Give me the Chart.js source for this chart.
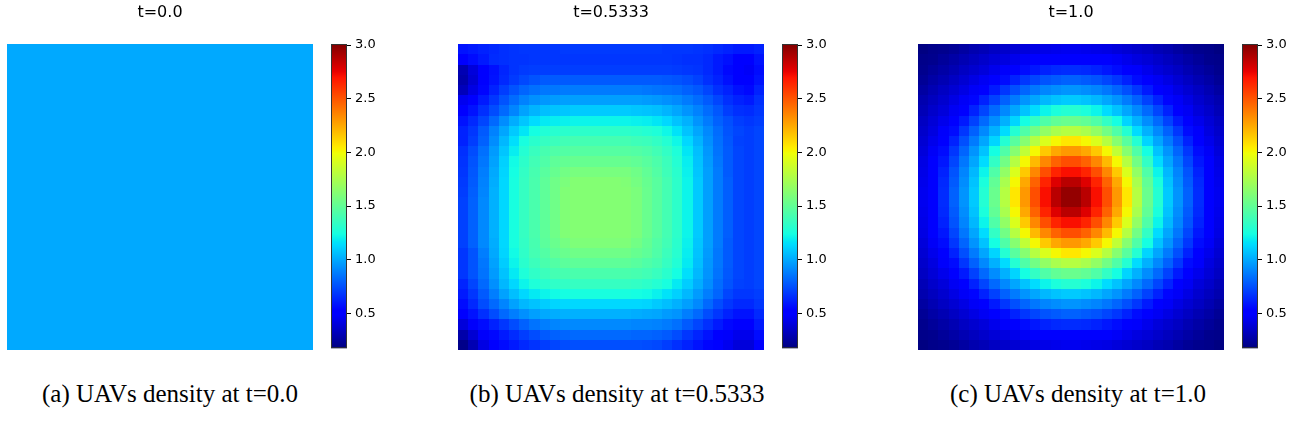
<!DOCTYPE html>
<html>
<head>
<meta charset="utf-8">
<title>UAVs density</title>
<script src="https://cdn.jsdelivr.net/npm/chart.js@4.4.1/dist/chart.umd.min.js"></script>
<style>
  body { margin: 0; background: #fff; }
  #page { position: relative; width: 1311px; height: 438px; overflow: hidden; }
  canvas { position: absolute; top: 0; }
  .caption {
    position: absolute; top: 381px; transform: translateX(-50%);
    font-family: 'Liberation Serif', 'Times New Roman', serif; font-size: 25px; line-height: 25px;
    color: #000; white-space: nowrap;
  }
</style>
</head>
<body>
<div id="page">
  <canvas id="map0" width="306" height="350" style="left:7px"></canvas>
  <canvas id="bar0" width="60" height="360" style="left:331px"></canvas>
  <canvas id="map1" width="306" height="350" style="left:458px"></canvas>
  <canvas id="bar1" width="60" height="360" style="left:782px"></canvas>
  <canvas id="map2" width="306" height="350" style="left:918px"></canvas>
  <canvas id="bar2" width="60" height="360" style="left:1242px"></canvas>
  <div class="caption" id="cap0" style="left:170px"></div>
  <div class="caption" id="cap1" style="left:617px"></div>
  <div class="caption" id="cap2" style="left:1078px"></div>
</div>
<script>
// text of the three panels
const panelTitles = ['t=0.0', 't=0.5333', 't=1.0'];
const captionTexts = ['(a) UAVs density at t=0.0', '(b) UAVs density at t=0.5333', '(c) UAVs density at t=1.0'];

// colour bar
const colorMin = 0.175;
const colorMax = 3.01;
const colorbarTicks = [0.5, 1.0, 1.5, 2.0, 2.5, 3.0];

// t=0.0 : uniform field
const densityT0 = [[1.0]];

// t=0.5333 : rows top -> bottom, columns left -> right
const densityT05333 = [
  [0.58,0.60,0.62,0.64,0.66,0.67,0.68,0.68,0.68,0.68,0.69,0.69,0.69,0.69,0.69,0.69,0.69,0.69,0.69,0.69,0.68,0.68,0.68,0.67,0.66,0.64,0.62,0.60,0.60,0.62],
  [0.52,0.56,0.60,0.65,0.66,0.67,0.67,0.68,0.68,0.68,0.68,0.68,0.68,0.68,0.68,0.68,0.68,0.68,0.68,0.68,0.68,0.67,0.66,0.66,0.64,0.60,0.57,0.52,0.50,0.58],
  [0.30,0.40,0.50,0.57,0.63,0.67,0.69,0.70,0.70,0.70,0.70,0.70,0.70,0.70,0.70,0.70,0.70,0.70,0.70,0.70,0.70,0.69,0.68,0.67,0.64,0.60,0.55,0.49,0.47,0.56],
  [0.28,0.38,0.50,0.58,0.64,0.69,0.73,0.76,0.78,0.78,0.78,0.78,0.78,0.78,0.78,0.78,0.78,0.78,0.78,0.78,0.77,0.76,0.74,0.71,0.66,0.62,0.57,0.51,0.49,0.58],
  [0.32,0.42,0.54,0.62,0.70,0.76,0.81,0.84,0.86,0.86,0.87,0.87,0.87,0.87,0.87,0.87,0.87,0.87,0.86,0.85,0.84,0.83,0.80,0.77,0.72,0.66,0.62,0.57,0.55,0.62],
  [0.45,0.52,0.60,0.68,0.76,0.83,0.89,0.93,0.95,0.96,0.97,0.97,0.97,0.97,0.97,0.97,0.97,0.97,0.96,0.95,0.93,0.91,0.87,0.83,0.78,0.72,0.66,0.62,0.60,0.66],
  [0.52,0.58,0.66,0.74,0.82,0.90,0.98,1.03,1.06,1.07,1.08,1.09,1.09,1.09,1.09,1.09,1.09,1.08,1.07,1.06,1.03,0.99,0.94,0.89,0.83,0.77,0.70,0.66,0.65,0.68],
  [0.58,0.64,0.72,0.82,0.92,1.01,1.08,1.14,1.18,1.19,1.20,1.21,1.21,1.21,1.21,1.21,1.21,1.20,1.19,1.17,1.13,1.07,1.02,0.94,0.87,0.80,0.75,0.70,0.68,0.70],
  [0.62,0.68,0.78,0.89,0.99,1.09,1.17,1.24,1.28,1.30,1.31,1.32,1.32,1.32,1.32,1.32,1.32,1.31,1.29,1.27,1.22,1.16,1.07,0.99,0.91,0.83,0.76,0.72,0.70,0.72],
  [0.62,0.70,0.80,0.92,1.04,1.15,1.25,1.31,1.35,1.37,1.39,1.40,1.40,1.40,1.40,1.40,1.40,1.38,1.37,1.34,1.29,1.22,1.13,1.03,0.93,0.84,0.77,0.71,0.70,0.72],
  [0.66,0.74,0.84,0.96,1.08,1.19,1.29,1.36,1.41,1.44,1.45,1.46,1.46,1.46,1.46,1.46,1.46,1.45,1.43,1.39,1.34,1.27,1.17,1.06,0.95,0.85,0.78,0.72,0.70,0.72],
  [0.67,0.76,0.86,0.98,1.11,1.23,1.32,1.39,1.44,1.49,1.51,1.52,1.52,1.52,1.52,1.52,1.52,1.50,1.47,1.43,1.37,1.29,1.19,1.07,0.96,0.86,0.78,0.72,0.70,0.72],
  [0.68,0.77,0.88,1.00,1.12,1.24,1.34,1.41,1.47,1.52,1.56,1.58,1.58,1.58,1.58,1.58,1.58,1.55,1.50,1.45,1.38,1.31,1.20,1.08,0.97,0.87,0.78,0.72,0.70,0.72],
  [0.69,0.78,0.89,1.01,1.13,1.25,1.35,1.42,1.49,1.55,1.59,1.62,1.62,1.62,1.62,1.62,1.61,1.57,1.52,1.47,1.40,1.32,1.21,1.09,0.97,0.87,0.79,0.72,0.70,0.72],
  [0.70,0.79,0.90,1.02,1.13,1.25,1.35,1.42,1.49,1.55,1.61,1.62,1.62,1.62,1.62,1.62,1.62,1.59,1.53,1.47,1.40,1.32,1.21,1.09,0.97,0.87,0.79,0.72,0.70,0.72],
  [0.71,0.80,0.91,1.02,1.13,1.25,1.35,1.42,1.49,1.55,1.61,1.62,1.62,1.62,1.62,1.62,1.62,1.59,1.53,1.47,1.40,1.32,1.21,1.09,0.97,0.87,0.79,0.72,0.70,0.72],
  [0.71,0.80,0.91,1.02,1.13,1.25,1.35,1.42,1.49,1.55,1.61,1.62,1.62,1.62,1.62,1.62,1.62,1.59,1.53,1.47,1.40,1.32,1.21,1.09,0.97,0.87,0.79,0.72,0.70,0.72],
  [0.71,0.80,0.91,1.02,1.13,1.25,1.35,1.42,1.49,1.55,1.61,1.62,1.62,1.62,1.62,1.62,1.62,1.59,1.53,1.47,1.40,1.32,1.21,1.09,0.97,0.87,0.79,0.72,0.70,0.72],
  [0.71,0.80,0.91,1.02,1.13,1.25,1.35,1.42,1.49,1.55,1.61,1.62,1.62,1.62,1.62,1.62,1.62,1.59,1.53,1.47,1.40,1.32,1.21,1.09,0.97,0.87,0.79,0.72,0.70,0.72],
  [0.71,0.80,0.91,1.01,1.13,1.25,1.34,1.41,1.48,1.53,1.57,1.60,1.60,1.60,1.60,1.60,1.60,1.56,1.51,1.45,1.39,1.31,1.20,1.08,0.97,0.87,0.78,0.72,0.70,0.72],
  [0.68,0.76,0.88,1.00,1.12,1.23,1.33,1.40,1.45,1.50,1.53,1.55,1.55,1.55,1.55,1.55,1.55,1.52,1.49,1.44,1.37,1.30,1.19,1.07,0.96,0.86,0.78,0.72,0.70,0.72],
  [0.68,0.76,0.86,0.98,1.10,1.21,1.31,1.37,1.42,1.45,1.48,1.49,1.49,1.49,1.49,1.49,1.49,1.47,1.44,1.41,1.35,1.28,1.18,1.06,0.95,0.86,0.78,0.72,0.70,0.72],
  [0.68,0.76,0.85,0.96,1.07,1.18,1.27,1.33,1.37,1.40,1.41,1.42,1.42,1.42,1.42,1.42,1.42,1.41,1.39,1.36,1.31,1.24,1.15,1.04,0.94,0.85,0.77,0.72,0.70,0.72],
  [0.63,0.72,0.82,0.93,1.04,1.13,1.21,1.27,1.31,1.33,1.34,1.35,1.35,1.35,1.35,1.35,1.35,1.34,1.32,1.29,1.25,1.18,1.10,1.01,0.92,0.83,0.76,0.71,0.70,0.72],
  [0.60,0.68,0.78,0.88,0.98,1.06,1.13,1.18,1.21,1.23,1.24,1.25,1.25,1.25,1.25,1.25,1.25,1.24,1.23,1.20,1.16,1.11,1.04,0.96,0.88,0.81,0.72,0.68,0.68,0.70],
  [0.56,0.64,0.74,0.82,0.90,0.98,1.04,1.07,1.10,1.12,1.13,1.13,1.13,1.13,1.13,1.13,1.13,1.13,1.12,1.09,1.06,1.02,0.97,0.91,0.82,0.74,0.68,0.64,0.64,0.68],
  [0.50,0.58,0.66,0.74,0.82,0.88,0.93,0.97,1.00,1.01,1.02,1.02,1.02,1.02,1.02,1.02,1.02,1.01,1.00,0.99,0.96,0.94,0.88,0.82,0.74,0.68,0.62,0.58,0.58,0.64],
  [0.40,0.48,0.56,0.62,0.68,0.74,0.80,0.85,0.88,0.90,0.91,0.91,0.91,0.91,0.91,0.91,0.91,0.90,0.90,0.89,0.87,0.84,0.78,0.72,0.66,0.60,0.55,0.50,0.50,0.60],
  [0.28,0.38,0.48,0.55,0.60,0.65,0.70,0.74,0.78,0.80,0.81,0.82,0.82,0.82,0.82,0.82,0.82,0.81,0.81,0.80,0.78,0.74,0.68,0.63,0.58,0.53,0.48,0.44,0.44,0.56],
  [0.20,0.30,0.42,0.50,0.56,0.60,0.64,0.67,0.70,0.72,0.74,0.75,0.75,0.75,0.75,0.75,0.75,0.75,0.74,0.73,0.70,0.66,0.62,0.58,0.54,0.50,0.45,0.40,0.40,0.52]
];

// t=1.0 : rows top -> bottom
const densityT1 = [
  [0.18,0.20,0.21,0.23,0.26,0.29,0.31,0.34,0.36,0.38,0.40,0.42,0.43,0.44,0.45,0.45,0.44,0.43,0.42,0.40,0.38,0.36,0.34,0.31,0.29,0.26,0.23,0.21,0.20,0.18],
  [0.20,0.21,0.24,0.27,0.30,0.33,0.36,0.39,0.41,0.44,0.47,0.49,0.51,0.53,0.53,0.53,0.53,0.51,0.49,0.47,0.44,0.41,0.39,0.36,0.33,0.30,0.27,0.24,0.21,0.20],
  [0.21,0.24,0.27,0.30,0.34,0.37,0.40,0.44,0.48,0.52,0.56,0.59,0.62,0.64,0.65,0.65,0.64,0.62,0.59,0.56,0.52,0.48,0.44,0.40,0.37,0.34,0.30,0.27,0.24,0.21],
  [0.23,0.27,0.30,0.34,0.38,0.42,0.46,0.51,0.56,0.62,0.68,0.72,0.76,0.78,0.80,0.80,0.78,0.76,0.72,0.68,0.62,0.56,0.51,0.46,0.42,0.38,0.34,0.30,0.27,0.23],
  [0.26,0.30,0.34,0.38,0.42,0.47,0.53,0.60,0.68,0.75,0.81,0.86,0.90,0.92,0.94,0.94,0.92,0.90,0.86,0.81,0.75,0.68,0.60,0.53,0.47,0.42,0.38,0.34,0.30,0.26],
  [0.29,0.33,0.37,0.42,0.47,0.54,0.62,0.71,0.80,0.87,0.94,0.99,1.04,1.07,1.09,1.09,1.07,1.04,0.99,0.94,0.87,0.80,0.71,0.62,0.54,0.47,0.42,0.37,0.33,0.29],
  [0.31,0.36,0.40,0.46,0.53,0.62,0.72,0.82,0.91,0.99,1.07,1.14,1.21,1.26,1.29,1.29,1.26,1.21,1.14,1.07,0.99,0.91,0.82,0.72,0.62,0.53,0.46,0.40,0.36,0.31],
  [0.34,0.39,0.44,0.51,0.60,0.71,0.82,0.92,1.02,1.12,1.24,1.34,1.44,1.50,1.53,1.53,1.50,1.44,1.34,1.24,1.12,1.02,0.92,0.82,0.71,0.60,0.51,0.44,0.39,0.34],
  [0.36,0.41,0.48,0.56,0.68,0.80,0.91,1.02,1.14,1.29,1.44,1.56,1.67,1.75,1.79,1.79,1.75,1.67,1.56,1.44,1.29,1.14,1.02,0.91,0.80,0.68,0.56,0.48,0.41,0.36],
  [0.38,0.44,0.52,0.62,0.75,0.87,0.99,1.12,1.29,1.47,1.63,1.79,1.92,2.01,2.06,2.06,2.01,1.92,1.79,1.63,1.47,1.29,1.12,0.99,0.87,0.75,0.62,0.52,0.44,0.38],
  [0.40,0.47,0.56,0.68,0.81,0.94,1.07,1.24,1.44,1.63,1.83,2.01,2.15,2.25,2.30,2.30,2.25,2.15,2.01,1.83,1.63,1.44,1.24,1.07,0.94,0.81,0.68,0.56,0.47,0.40],
  [0.42,0.49,0.59,0.72,0.86,0.99,1.14,1.34,1.56,1.79,2.01,2.20,2.35,2.46,2.52,2.52,2.46,2.35,2.20,2.01,1.79,1.56,1.34,1.14,0.99,0.86,0.72,0.59,0.49,0.42],
  [0.43,0.51,0.62,0.76,0.90,1.04,1.21,1.44,1.67,1.92,2.15,2.35,2.52,2.65,2.71,2.71,2.65,2.52,2.35,2.15,1.92,1.67,1.44,1.21,1.04,0.90,0.76,0.62,0.51,0.43],
  [0.44,0.53,0.64,0.78,0.92,1.07,1.26,1.50,1.75,2.01,2.25,2.46,2.65,2.78,2.87,2.87,2.78,2.65,2.46,2.25,2.01,1.75,1.50,1.26,1.07,0.92,0.78,0.64,0.53,0.44],
  [0.45,0.53,0.65,0.80,0.94,1.09,1.29,1.53,1.79,2.06,2.30,2.52,2.71,2.87,2.96,2.96,2.87,2.71,2.52,2.30,2.06,1.79,1.53,1.29,1.09,0.94,0.80,0.65,0.53,0.45],
  [0.45,0.53,0.65,0.80,0.94,1.09,1.29,1.53,1.79,2.06,2.30,2.52,2.71,2.87,2.96,2.96,2.87,2.71,2.52,2.30,2.06,1.79,1.53,1.29,1.09,0.94,0.80,0.65,0.53,0.45],
  [0.44,0.53,0.64,0.78,0.92,1.07,1.26,1.50,1.75,2.01,2.25,2.46,2.65,2.78,2.87,2.87,2.78,2.65,2.46,2.25,2.01,1.75,1.50,1.26,1.07,0.92,0.78,0.64,0.53,0.44],
  [0.43,0.51,0.62,0.76,0.90,1.04,1.21,1.44,1.67,1.92,2.15,2.35,2.52,2.65,2.71,2.71,2.65,2.52,2.35,2.15,1.92,1.67,1.44,1.21,1.04,0.90,0.76,0.62,0.51,0.43],
  [0.42,0.49,0.59,0.72,0.86,0.99,1.14,1.34,1.56,1.79,2.01,2.20,2.35,2.46,2.52,2.52,2.46,2.35,2.20,2.01,1.79,1.56,1.34,1.14,0.99,0.86,0.72,0.59,0.49,0.42],
  [0.40,0.47,0.56,0.68,0.81,0.94,1.07,1.24,1.44,1.63,1.83,2.01,2.15,2.25,2.30,2.30,2.25,2.15,2.01,1.83,1.63,1.44,1.24,1.07,0.94,0.81,0.68,0.56,0.47,0.40],
  [0.38,0.44,0.52,0.62,0.75,0.87,0.99,1.12,1.29,1.47,1.63,1.79,1.92,2.01,2.06,2.06,2.01,1.92,1.79,1.63,1.47,1.29,1.12,0.99,0.87,0.75,0.62,0.52,0.44,0.38],
  [0.36,0.41,0.48,0.56,0.68,0.80,0.91,1.02,1.14,1.29,1.44,1.56,1.67,1.75,1.79,1.79,1.75,1.67,1.56,1.44,1.29,1.14,1.02,0.91,0.80,0.68,0.56,0.48,0.41,0.36],
  [0.34,0.39,0.44,0.51,0.60,0.71,0.82,0.92,1.02,1.12,1.24,1.34,1.44,1.50,1.53,1.53,1.50,1.44,1.34,1.24,1.12,1.02,0.92,0.82,0.71,0.60,0.51,0.44,0.39,0.34],
  [0.31,0.36,0.40,0.46,0.53,0.62,0.72,0.82,0.91,0.99,1.07,1.14,1.21,1.26,1.29,1.29,1.26,1.21,1.14,1.07,0.99,0.91,0.82,0.72,0.62,0.53,0.46,0.40,0.36,0.31],
  [0.29,0.33,0.37,0.42,0.47,0.54,0.62,0.71,0.80,0.87,0.94,0.99,1.04,1.07,1.09,1.09,1.07,1.04,0.99,0.94,0.87,0.80,0.71,0.62,0.54,0.47,0.42,0.37,0.33,0.29],
  [0.26,0.30,0.34,0.38,0.42,0.47,0.53,0.60,0.68,0.75,0.81,0.86,0.90,0.92,0.94,0.94,0.92,0.90,0.86,0.81,0.75,0.68,0.60,0.53,0.47,0.42,0.38,0.34,0.30,0.26],
  [0.23,0.27,0.30,0.34,0.38,0.42,0.46,0.51,0.56,0.62,0.68,0.72,0.76,0.78,0.80,0.80,0.78,0.76,0.72,0.68,0.62,0.56,0.51,0.46,0.42,0.38,0.34,0.30,0.27,0.23],
  [0.21,0.24,0.27,0.30,0.34,0.37,0.40,0.44,0.48,0.52,0.56,0.59,0.62,0.64,0.65,0.65,0.64,0.62,0.59,0.56,0.52,0.48,0.44,0.40,0.37,0.34,0.30,0.27,0.24,0.21],
  [0.20,0.21,0.24,0.27,0.30,0.33,0.36,0.39,0.41,0.44,0.47,0.49,0.51,0.53,0.53,0.53,0.53,0.51,0.49,0.47,0.44,0.41,0.39,0.36,0.33,0.30,0.27,0.24,0.21,0.20],
  [0.18,0.20,0.21,0.23,0.26,0.29,0.31,0.34,0.36,0.38,0.40,0.42,0.43,0.44,0.45,0.45,0.44,0.43,0.42,0.40,0.38,0.36,0.34,0.31,0.29,0.26,0.23,0.21,0.20,0.18]
];

// matplotlib "jet" segments
const jetRed   = [[0, 0], [0.35, 0], [0.66, 1], [0.89, 1], [1, 0.5]];
const jetGreen = [[0, 0], [0.125, 0], [0.375, 1], [0.64, 1], [0.91, 0], [1, 0]];
const jetBlue  = [[0, 0.5], [0.11, 1], [0.34, 1], [0.65, 0], [1, 0]];

function segValue(pts, t) {
  for (let k = 1; k < pts.length; k++) {
    if (t <= pts[k][0]) {
      const [x0, y0] = pts[k - 1];
      const [x1, y1] = pts[k];
      return y0 + (y1 - y0) * (t - x0) / (x1 - x0);
    }
  }
  return pts[pts.length - 1][1];
}

function jet(t) {
  t = Math.min(1, Math.max(0, t));
  const r = Math.round(segValue(jetRed, t) * 255);
  const g = Math.round(segValue(jetGreen, t) * 255);
  const b = Math.round(segValue(jetBlue, t) * 255);
  return `rgb(${r},${g},${b})`;
}

function colorFor(v) {
  return jet((v - colorMin) / (colorMax - colorMin));
}

// draws the grid cells through the x/y scales of the chart
const heatmapPlugin = {
  id: 'heatmap',
  beforeDatasetsDraw(chart, args, opts) {
    const { ctx, scales: { x, y } } = chart;
    const grid = opts.grid;
    ctx.save();
    grid.forEach((row, j) => {
      row.forEach((v, i) => {
        const x0 = Math.round(x.getPixelForValue(i));
        const x1 = Math.round(x.getPixelForValue(i + 1));
        const y0 = Math.round(y.getPixelForValue(j));
        const y1 = Math.round(y.getPixelForValue(j + 1));
        ctx.fillStyle = colorFor(v);
        ctx.fillRect(x0, y0, x1 - x0, y1 - y0);
      });
    });
    ctx.restore();
  }
};

// gradient strip + outline of the colour bar
const colorbarPlugin = {
  id: 'colorbar',
  beforeDatasetsDraw(chart) {
    const { ctx, chartArea: a, scales: { y } } = chart;
    const yBottom = y.getPixelForValue(colorMin);
    const yTop = y.getPixelForValue(colorMax);
    const grad = ctx.createLinearGradient(0, yBottom, 0, yTop);
    [0, 0.11, 0.125, 0.34, 0.35, 0.375, 0.64, 0.65, 0.66, 0.89, 0.91, 1].forEach(t => grad.addColorStop(t, jet(t)));
    ctx.save();
    ctx.fillStyle = grad;
    ctx.fillRect(a.left, yTop, a.right - a.left, yBottom - yTop);
    ctx.strokeStyle = '#333';
    ctx.lineWidth = 1;
    ctx.strokeRect(a.left + 0.5, yTop + 0.5, a.right - a.left - 1, yBottom - yTop - 1);
    ctx.restore();
  }
};

function makeMap(id, grid, title) {
  new Chart(document.getElementById(id), {
    type: 'scatter',
    data: { datasets: [] },
    options: {
      responsive: false,
      animation: false,
      events: [],
      layout: { padding: 0 },
      plugins: {
        legend: { display: false },
        tooltip: { enabled: false },
        title: {
          display: true, text: title, color: '#000',
          font: { family: 'DejaVu Sans', size: 16, weight: 'normal' },
          padding: { top: 3, bottom: 22 }
        },
        heatmap: { grid }
      },
      scales: {
        x: { type: 'linear', min: 0, max: grid[0].length, display: false },
        y: { type: 'linear', min: 0, max: grid.length, reverse: true, display: false }
      }
    },
    plugins: [heatmapPlugin]
  });
}

function makeColorbar(id) {
  new Chart(document.getElementById(id), {
    type: 'scatter',
    data: { datasets: [] },
    options: {
      responsive: false,
      animation: false,
      events: [],
      layout: { padding: { top: 44, bottom: 10, left: 0, right: 0 } },
      plugins: { legend: { display: false }, tooltip: { enabled: false } },
      scales: {
        x: { display: false },
        y: {
          type: 'linear', position: 'right', min: colorMin, max: colorMax,
          afterBuildTicks: axis => { axis.ticks = colorbarTicks.map(v => ({ value: v })); },
          afterFit: axis => { axis.width = 44; },
          ticks: {
            callback: v => Number(v).toFixed(1),
            color: '#000', padding: 4,
            font: { family: 'DejaVu Sans', size: 13 }
          },
          grid: { drawOnChartArea: false, drawTicks: true, tickLength: 4, tickColor: '#000', tickWidth: 1 },
          border: { display: false }
        }
      }
    },
    plugins: [colorbarPlugin]
  });
}

window.addEventListener('DOMContentLoaded', () => {
  const grids = [densityT0, densityT05333, densityT1];
  grids.forEach((g, k) => {
    makeMap('map' + k, g, panelTitles[k]);
    makeColorbar('bar' + k);
    document.getElementById('cap' + k).textContent = captionTexts[k];
  });
});
</script>
</body>
</html>
